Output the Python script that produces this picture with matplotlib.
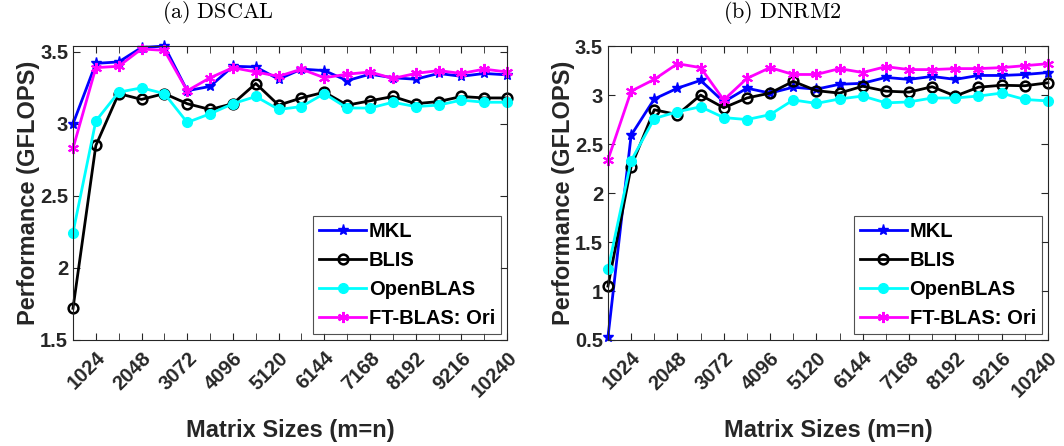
import numpy as np
import matplotlib.pyplot as plt
from matplotlib.ticker import MultipleLocator

plt.rcParams["font.family"] = ["Liberation Sans", "DejaVu Sans"]
plt.rcParams["mathtext.fontset"] = "cm"

sizes = np.arange(512, 10240 + 1, 512)

# DSCAL performance (GFLOPS)
dscal_mkl = [3.00, 3.42, 3.43, 3.53, 3.54, 3.23, 3.26, 3.40, 3.395, 3.31,
             3.38, 3.37, 3.30, 3.345, 3.32, 3.31, 3.35, 3.33, 3.35, 3.34]
dscal_blis = [1.72, 2.85, 3.21, 3.17, 3.21, 3.14, 3.10, 3.14, 3.28, 3.13,
              3.18, 3.22, 3.13, 3.16, 3.19, 3.14, 3.155, 3.19, 3.18, 3.18]
dscal_openblas = [2.245, 3.02, 3.22, 3.25, 3.21, 3.01, 3.07, 3.14, 3.19, 3.10,
                  3.12, 3.21, 3.11, 3.11, 3.15, 3.12, 3.13, 3.165, 3.15, 3.15]
dscal_ftblas = [2.83, 3.39, 3.40, 3.52, 3.51, 3.23, 3.32, 3.39, 3.36, 3.33,
                3.38, 3.32, 3.345, 3.36, 3.315, 3.35, 3.37, 3.35, 3.38, 3.36]

# DNRM2 performance (GFLOPS)
dnrm2_mkl = [0.53, 2.59, 2.96, 3.07, 3.15, 2.93, 3.07, 3.02, 3.08, 3.06,
             3.11, 3.12, 3.18, 3.16, 3.19, 3.16, 3.20, 3.20, 3.21, 3.23]
dnrm2_blis = [1.05, 2.27, 2.85, 2.80, 3.00, 2.87, 2.97, 3.02, 3.14, 3.045,
              3.02, 3.09, 3.04, 3.03, 3.085, 2.99, 3.08, 3.10, 3.095, 3.125]
dnrm2_openblas = [1.22, 2.33, 2.76, 2.83, 2.88, 2.77, 2.75, 2.80, 2.95, 2.915,
                  2.96, 2.99, 2.92, 2.93, 2.97, 2.97, 2.99, 3.02, 2.955, 2.94]
dnrm2_ftblas = [2.34, 3.04, 3.16, 3.32, 3.28, 2.95, 3.17, 3.28, 3.21, 3.21,
                3.27, 3.23, 3.29, 3.26, 3.26, 3.27, 3.27, 3.28, 3.30, 3.32]

labels = ["MKL", "BLIS", "OpenBLAS", "FT-BLAS: Ori"]
styles = [
    dict(color="#0000ff", marker="*", markersize=8),
    dict(color="black", marker="o", markersize=7, markerfacecolor="none",
         markeredgewidth=1.8),
    dict(color="#00ffff", marker="o", markersize=7),
    dict(color="#ff00ff", marker=(6, 2, 0), markersize=8, markeredgewidth=1.5),
]
txt = "#262626"


def draw(ax, series, ylim, yticks):
    for vals, lab, st in zip(series, labels, styles):
        ax.plot(sizes, vals, lw=2, label=lab, clip_on=False, **st)
    ax.set_xlim(512, 10240)
    ax.set_ylim(*ylim)
    ax.set_xticks(np.arange(1024, 10241, 1024))
    ax.xaxis.set_minor_locator(MultipleLocator(512))
    ax.set_yticks(yticks)
    ax.set_yticklabels(["%g" % v for v in yticks])
    ax.tick_params(which="both", direction="in", top=True, right=True,
                   colors=txt, labelsize=14.5, length=5)
    ax.tick_params(axis="x", pad=6)
    for lbl in ax.get_xticklabels() + ax.get_yticklabels():
        lbl.set_fontweight("bold")
    for lbl in ax.get_xticklabels():
        lbl.set_rotation(45)
        lbl.set_ha("right")
        lbl.set_rotation_mode("anchor")
    for sp in ax.spines.values():
        sp.set_color(txt)
        sp.set_linewidth(0.8)
    ax.set_xlabel("Matrix Sizes (m=n)", fontsize=17, fontweight="bold",
                  color=txt, labelpad=13)
    ax.set_ylabel("Performance (GFLOPS)", fontsize=17, fontweight="bold",
                  color=txt, labelpad=0)
    leg = ax.legend(loc="lower right", frameon=True, fancybox=False,
                    borderpad=0.3, labelspacing=0.5, handlelength=2.3,
                    handletextpad=0.15, borderaxespad=0.3,
                    prop=dict(weight="bold", size=14.5))
    leg.get_frame().set_edgecolor(txt)
    leg.get_frame().set_linewidth(0.8)


fig = plt.figure(figsize=(10.64, 4.46), dpi=100)
ax1 = fig.add_axes([0.0686, 0.2377, 0.408, 0.659])
ax2 = fig.add_axes([0.5714, 0.2377, 0.4135, 0.659])

draw(ax1, [dscal_mkl, dscal_blis, dscal_openblas, dscal_ftblas],
     (1.5, 3.54), [1.5, 2, 2.5, 3, 3.5])
draw(ax2, [dnrm2_mkl, dnrm2_blis, dnrm2_openblas, dnrm2_ftblas],
     (0.5, 3.5), [0.5, 1, 1.5, 2, 2.5, 3, 3.5])

fig.text(218 / 1064, 1 - 13 / 446, r"$\mathrm{(a)\ DSCAL}$", fontsize=16,
         ha="center", va="center")
fig.text(782 / 1064, 1 - 13 / 446, r"$\mathrm{(b)\ DNRM2}$", fontsize=16,
         ha="center", va="center")

fig.savefig("out.png", dpi=100)
